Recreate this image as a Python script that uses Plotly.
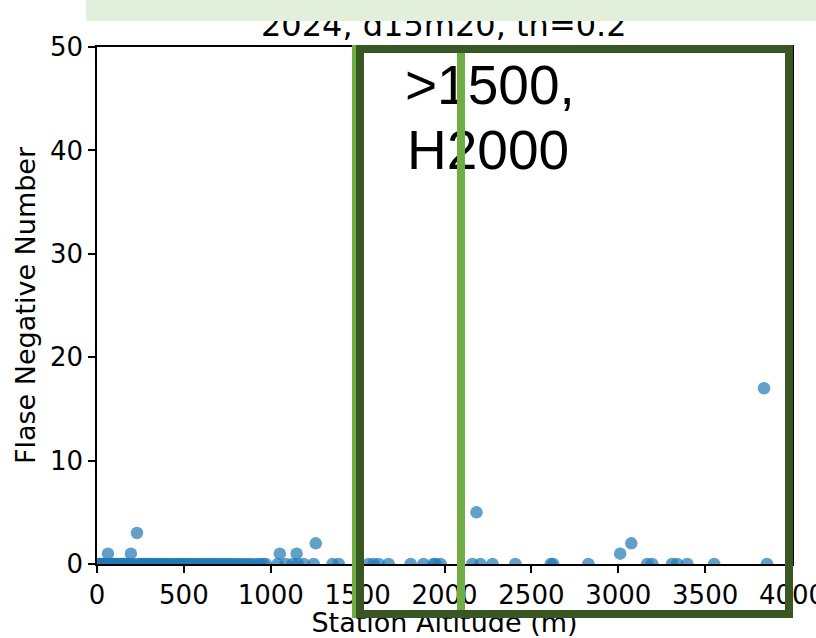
import plotly.graph_objects as go

# ---- data ----
# stations with a non-zero false-negative count
alt_nonzero = [63, 195, 230, 1052, 1149, 1259, 2184, 3011, 3075, 3839]
fn_nonzero = [1, 1, 3, 1, 1, 2, 5, 1, 2, 17]
# stations with zero false negatives (low altitudes: dense band)
alt_zero_low = [8, 15, 22, 30, 38, 45, 52, 70, 78, 85, 95, 105, 112, 120, 132,
                140, 150, 160, 170, 180, 200, 210, 240, 250, 262, 275, 285, 300,
                312, 325, 338, 350, 362, 375, 390, 402, 415, 430, 445, 458, 470,
                485, 498, 512, 525, 540, 555, 568, 582, 598, 612, 628, 645, 660,
                675, 690, 708, 722, 740, 758, 775, 790, 812, 830, 850, 872, 890,
                915, 935, 955, 971]
alt_zero_high = [1040, 1086, 1126, 1155, 1190, 1247, 1356, 1391, 1563, 1592,
                 1621, 1678, 1805, 1879, 1937, 1948, 1977, 2161, 2207, 2276,
                 2408, 2612, 2625, 2828, 3167, 3195, 3310, 3339, 3397, 3552, 3856]
x_ticks = [0, 500, 1000, 1500, 2000, 2500, 3000, 3500, 4000]
y_ticks = [0, 10, 20, 30, 40, 50]

altitude = alt_zero_low + alt_zero_high + alt_nonzero
fn_count = [0] * (len(alt_zero_low) + len(alt_zero_high)) + fn_nonzero

# ---- layout geometry ----
W, H = 816, 638
L, R, T, B = 97, 24, 47, 74
PW, PH = W - L - R, H - T - B


def px(xp):
    return (xp - L) / PW


def py(yp):
    return (H - B - yp) / PH


FONT = "DejaVu Sans"

fig = go.Figure()
fig.add_trace(go.Scatter(
    x=altitude, y=fn_count, mode="markers",
    marker=dict(size=12.5, color="#1f77b4", opacity=0.7, line=dict(width=0)),
    cliponaxis=True, showlegend=False, hoverinfo="skip"))

axis_common = dict(
    showline=True, linecolor="black", linewidth=1.5, mirror=True,
    ticks="outside", ticklen=7, tickwidth=1.5, tickcolor="black",
    showgrid=False, zeroline=False, automargin=False,
    ticklabeloverflow="allow",
    tickfont=dict(family=FONT, size=26, color="black"),
)

fig.update_layout(
    width=W, height=H,
    margin=dict(l=L, r=R, t=T, b=B, pad=0),
    paper_bgcolor="white", plot_bgcolor="white",
    xaxis=dict(range=[0, 4000], tickvals=x_ticks, **axis_common,
               title=dict(text="Station Altitude (m)", standoff=8,
                          font=dict(family=FONT, size=27, color="black"))),
    yaxis=dict(range=[0, 50], tickvals=y_ticks, **axis_common,
               title=dict(text="Flase Negative Number", standoff=7,
                          font=dict(family=FONT, size=27, color="black"))),
)

ann = []
# plot title (top partially hidden by the banner)
ann.append(dict(text="2024, d15m20, th=0.2", xref="paper", yref="paper",
                x=px(444), y=py(25), xanchor="center", yanchor="middle",
                showarrow=False, font=dict(family=FONT, size=32, color="black")))
# light green banner at the top
ann.append(dict(text=" ", xref="paper", yref="paper", x=px(86), y=py(0),
                xanchor="left", yanchor="top", width=730, height=21,
                bgcolor="#E2EFDA", borderpad=0, borderwidth=0, showarrow=False,
                font=dict(size=1)))
# overlay text
ann.append(dict(text=">1500,", xref="paper", yref="paper", x=px(404), y=py(85),
                xanchor="left", yanchor="middle", showarrow=False, borderpad=0,
                font=dict(family="Liberation Sans", size=55, color="black")))
ann.append(dict(text="H2000", xref="paper", yref="paper", x=px(406), y=py(150),
                xanchor="left", yanchor="middle", showarrow=False, borderpad=0,
                font=dict(family="Liberation Sans", size=55, color="black")))
# light green stripe at the left of the box
ann.append(dict(text=" ", xref="paper", yref="paper", x=px(352), y=py(45),
                xanchor="left", yanchor="top", width=7, height=573,
                bgcolor="#70AD47", borderpad=0, borderwidth=0, showarrow=False,
                font=dict(size=1)))
# light green vertical line
ann.append(dict(text=" ", xref="paper", yref="paper", x=px(457), y=py(45),
                xanchor="left", yanchor="top", width=8, height=573,
                bgcolor="#70AD47", borderpad=0, borderwidth=0, showarrow=False,
                font=dict(size=1)))
# dark green box
ann.append(dict(text=" ", xref="paper", yref="paper", x=px(356), y=py(45),
                xanchor="left", yanchor="top", width=437 - 16, height=573 - 16,
                bgcolor="rgba(0,0,0,0)", bordercolor="#385723", borderwidth=8,
                borderpad=0, showarrow=False, font=dict(size=1)))
fig.update_layout(annotations=ann)

fig.write_html("out.html")
